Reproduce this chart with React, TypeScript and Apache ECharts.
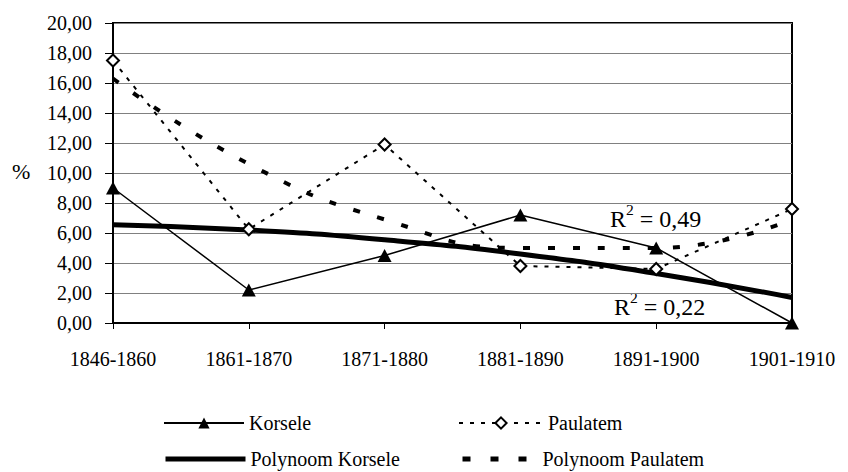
import React, { useEffect, useRef } from "react";
import * as echarts from "echarts";

const categories = ["1846-1860", "1861-1870", "1871-1880", "1881-1890", "1891-1900", "1901-1910"];
const korsele = [9.0, 2.2, 4.5, 7.2, 5.0, 0.0];
const paulatem = [17.5, 6.25, 11.9, 3.8, 3.6, 7.6];
const polyKorsele = [6.55, 6.2, 5.55, 4.6, 3.3, 1.7];
const polyPaulatem = [16.3, 10.6, 6.9, 5.0, 5.0, 6.9];
const r2Korsele = "0,22";
const r2Paulatem = "0,49";

const FONT = "Liberation Serif";
const FS = 20;

export default function App() {
  const ref = useRef<HTMLDivElement>(null);
  useEffect(() => {
    if (!ref.current) return;
    const chart = echarts.init(ref.current, undefined, { renderer: "svg" });
    const legendText = { fontFamily: FONT, fontSize: FS, color: "#000" };
    const r2Rich = {
      b: { fontFamily: FONT, fontSize: 20, fill: "#000", lineHeight: 24, verticalAlign: "bottom" },
      s: { fontFamily: FONT, fontSize: 13, fill: "#000", lineHeight: 24, verticalAlign: "top" },
    };
    chart.setOption({
      animation: false,
      backgroundColor: "#fff",
      textStyle: { fontFamily: FONT },
      grid: { left: 113, top: 23, right: 56, bottom: 149, show: true, borderColor: "#000", borderWidth: 2 },
      xAxis: {
        type: "category",
        data: categories,
        boundaryGap: false,
        axisLine: { lineStyle: { color: "#000", width: 2 } },
        axisTick: { show: true, length: 6, interval: 0, lineStyle: { color: "#000", width: 1 } },
        axisLabel: { color: "#000", fontFamily: FONT, fontSize: FS, margin: 26, interval: 0 },
        splitLine: { show: false },
      },
      yAxis: {
        type: "value",
        min: 0,
        max: 20,
        interval: 2,
        axisLine: { show: true, lineStyle: { color: "#000", width: 2 } },
        axisTick: { show: true, length: 8, lineStyle: { color: "#000", width: 1 } },
        axisLabel: {
          color: "#000",
          fontFamily: FONT,
          fontSize: FS,
          margin: 21,
          formatter: (v: number) => v.toFixed(2).replace(".", ","),
        },
        splitLine: { show: true, lineStyle: { color: "#808080", width: 1 } },
      },
      legend: [
        { data: ["Korsele"], left: 163, top: 413, itemWidth: 80, itemHeight: 14, padding: 0, textStyle: legendText },
        { data: ["Paulatem"], left: 458, top: 413, itemWidth: 84, itemHeight: 14, padding: 0, textStyle: legendText },
        {
          data: ["Polynoom Korsele"], left: 163, top: 449, itemWidth: 80, itemHeight: 14, padding: 0,
          textStyle: legendText, lineStyle: { width: 5, color: "#000" },
        },
        {
          data: ["Polynoom Paulatem"], left: 460, top: 449, itemWidth: 75, itemHeight: 14, padding: 0,
          textStyle: legendText, lineStyle: { width: 5, color: "#000", type: [8, 20] },
        },
      ],
      graphic: [
        {
          type: "text", x: 12, y: 160, scaleX: 1.1, scaleY: 1.1,
          style: { text: "%", fontFamily: FONT, fontSize: 20, fill: "#000" },
        },
        {
          type: "text", x: 610, y: 202, scaleX: 1.2, scaleY: 1.2,
          style: { text: `{b|R}{s|2}{b| = ${r2Paulatem}}`, rich: r2Rich },
        },
        {
          type: "text", x: 614, y: 290, scaleX: 1.2, scaleY: 1.2,
          style: { text: `{b|R}{s|2}{b| = ${r2Korsele}}`, rich: r2Rich },
        },
      ],
      series: [
        {
          name: "Polynoom Korsele",
          type: "line",
          data: polyKorsele,
          smooth: true,
          showSymbol: false,
          symbol: "circle",
          lineStyle: { color: "#000", width: 5 },
          itemStyle: { color: "rgba(0,0,0,0)", borderWidth: 0 },
          z: 2,
        },
        {
          name: "Polynoom Paulatem",
          type: "line",
          data: polyPaulatem,
          smooth: true,
          showSymbol: false,
          symbol: "circle",
          lineStyle: { color: "#000", width: 4, type: [7, 18], cap: "butt" },
          itemStyle: { color: "rgba(0,0,0,0)", borderWidth: 0 },
          z: 2,
        },
        {
          name: "Korsele",
          type: "line",
          data: korsele,
          symbol: "triangle",
          symbolSize: [14, 13],
          lineStyle: { color: "#000", width: 1.5 },
          itemStyle: { color: "#000" },
          z: 3,
        },
        {
          name: "Paulatem",
          type: "line",
          data: paulatem,
          symbol: "diamond",
          symbolSize: 12,
          lineStyle: { color: "#000", width: 2, type: [4, 7] },
          itemStyle: { color: "#fff", borderColor: "#000", borderWidth: 2 },
          z: 4,
        },
      ],
    });
    return () => chart.dispose();
  }, []);
  return <div ref={ref} style={{ position: "fixed", left: 0, top: 0, width: 848, height: 472 }} />;
}
